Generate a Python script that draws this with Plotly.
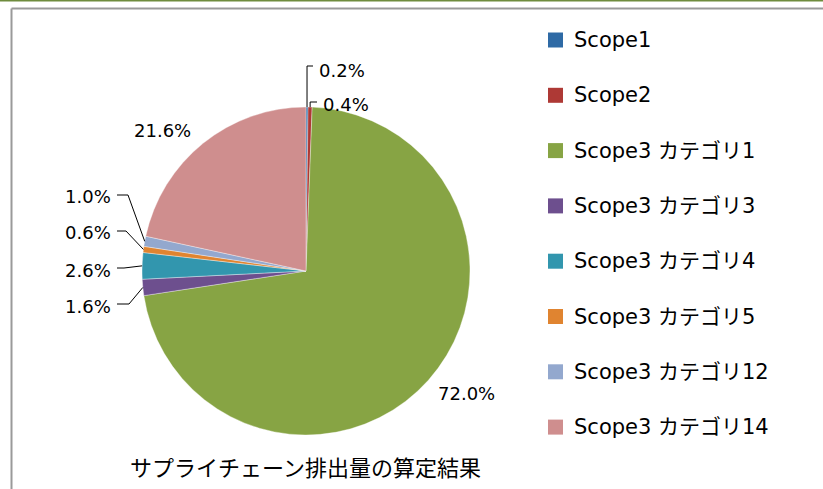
import math
import plotly.graph_objects as go

# ---- data ----
labels = ["Scope1", "Scope2", "Scope3 カテゴリ1", "Scope3 カテゴリ3", "Scope3 カテゴリ4",
          "Scope3 カテゴリ5", "Scope3 カテゴリ12", "Scope3 カテゴリ14"]
values = [0.2, 0.4, 72.0, 1.6, 2.6, 0.6, 1.0, 21.6]
colors = ["#2E6AA5", "#AE3935", "#87A444", "#6D4F8E", "#3296AE", "#E08430", "#93A8CE", "#CF8E8E"]
title_text = "サプライチェーン排出量の算定結果"

# ---- layout constants (pixels) ----
W, H = 823, 489
CX, CY, R = 306, 271, 164

def px(x):
    return x / W

def py(y):
    return 1 - y / H

fig = go.Figure()
fig.add_trace(go.Pie(
    labels=labels, values=values, sort=False, direction="clockwise", rotation=0,
    marker=dict(colors=colors, line=dict(color="rgba(255,255,255,0.6)", width=0.6)),
    textinfo="none", showlegend=False, hoverinfo="label+percent",
    domain=dict(x=[px(CX - R), px(CX + R)], y=[py(CY + R), py(CY - R)]),
))

# label placement (layout only): (text x, text y, anchor, leader kind, elbow point)
label_layout = [
    (317, 70, "left", "up", (313, 66)),
    (321, 104, "left", "up", (317, 102)),
    (467, 393, "center", None, None),
    (113, 306, "right", "left", (129, 304)),
    (113, 270, "right", "left", (124, 268)),
    (113, 232, "right", "left", (126, 231)),
    (113, 196, "right", "left", (128, 195)),
    (162, 131, "center", None, None),
]

total = sum(values)
cum = 0.0
shapes = []
annotations = []
for i, v in enumerate(values):
    mid = (cum + v / 2) / total * 2 * math.pi
    cum += v
    ex = CX + R * math.sin(mid)
    ey = CY - R * math.cos(mid)
    tx, ty, anchor, kind, elbow = label_layout[i]
    annotations.append(dict(
        x=px(tx), y=py(ty), xref="paper", yref="paper", text=f"{v:.1f}%",
        showarrow=False, xanchor=anchor, yanchor="middle",
        font=dict(family="DejaVu Sans", size=18, color="#000000"),
    ))
    if kind == "up":
        path = f"M {px(ex)},{py(ey)} L {px(ex)},{py(elbow[1])} L {px(elbow[0])},{py(elbow[1])}"
    elif kind == "left":
        path = f"M {px(117)},{py(elbow[1])} L {px(elbow[0])},{py(elbow[1])} L {px(ex)},{py(ey)}"
    else:
        path = None
    if path:
        shapes.append(dict(type="path", xref="paper", yref="paper", path=path,
                           line=dict(color="#000000", width=1)))

# manual legend
for i, lab in enumerate(labels):
    yc = 40 + i * 55.3
    shapes.append(dict(type="rect", xref="paper", yref="paper",
                       x0=px(548), x1=px(563), y0=py(yc - 7.5), y1=py(yc + 7.5),
                       fillcolor=colors[i], line=dict(width=0)))
    annotations.append(dict(
        x=px(572), y=py(yc), xref="paper", yref="paper", text=lab, showarrow=False,
        xanchor="left", yanchor="middle",
        font=dict(family="DejaVu Sans, Noto Sans CJK JP", size=21, color="#000000"),
    ))

# title
annotations.append(dict(
    x=px(305), y=py(466), xref="paper", yref="paper", text=title_text, showarrow=False,
    xanchor="center", yanchor="middle",
    font=dict(family="Noto Sans CJK JP", size=22, color="#000000"),
))

# frame
shapes.append(dict(type="line", xref="paper", yref="paper", x0=0, x1=1, y0=py(0.5), y1=py(0.5),
                   line=dict(color="#6E8B3D", width=2)))
shapes.append(dict(type="line", xref="paper", yref="paper", x0=px(11.5), x1=1, y0=py(8.5), y1=py(8.5),
                   line=dict(color="#9A9A9A", width=2)))
shapes.append(dict(type="line", xref="paper", yref="paper", x0=px(11.5), x1=px(11.5), y0=py(8.5), y1=0,
                   line=dict(color="#9A9A9A", width=2)))

fig.update_layout(
    width=W, height=H, autosize=False,
    margin=dict(l=0, r=0, t=0, b=0),
    paper_bgcolor="white", plot_bgcolor="white",
    shapes=shapes, annotations=annotations,
)

fig.write_html("out.html", config={"displayModeBar": False},
               post_script="document.body.style.margin='0';document.body.style.overflow='hidden';")
